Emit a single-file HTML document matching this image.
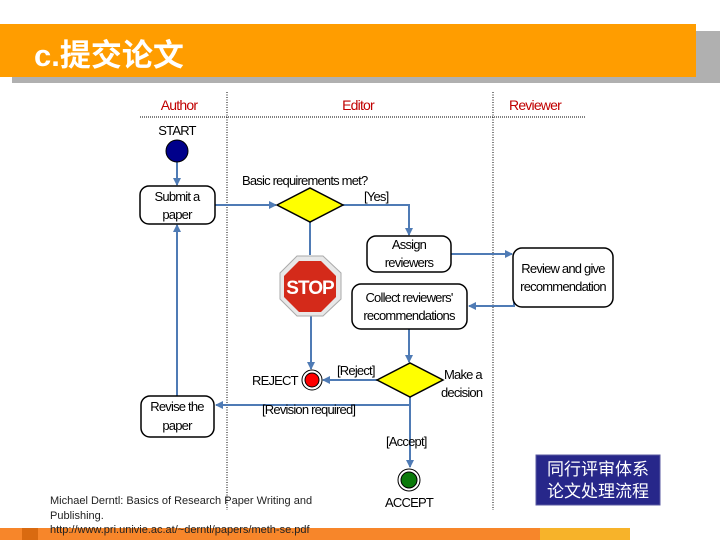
<!DOCTYPE html>
<html><head><meta charset="utf-8"><style>
body{margin:0;width:720px;height:540px;background:#fff;overflow:hidden;position:relative;font-family:"Liberation Sans",sans-serif}
svg{position:absolute;left:0;top:0}
</style></head><body>
<svg width="720" height="540" viewBox="0 0 720 540" font-family="'Liberation Sans','Noto Sans CJK SC',sans-serif">
<defs><marker id="a" markerWidth="8" markerHeight="8" refX="7" refY="4" orient="auto" markerUnits="userSpaceOnUse"><path d="M0,0 L8,4 L0,8 Z" fill="#4f7bb5"/></marker></defs>
<rect x="12" y="31" width="708" height="52" fill="#b0b0b0"/>
<rect x="0" y="24" width="696" height="53" fill="#ff9d00"/>
<text x="34" y="66" font-size="31" fill="#fff" font-weight="bold">c.提交论文</text>
<rect x="0" y="528" width="630" height="12" fill="#f7862a"/>
<rect x="540" y="528" width="90" height="12" fill="#f7b32a"/>
<rect x="22" y="528" width="16" height="12" fill="#d96a10"/>
<g font-size="14" fill="#c00000" text-anchor="middle" letter-spacing="-0.8">
<text x="179" y="110">Author</text><text x="358" y="110">Editor</text><text x="535" y="110">Reviewer</text></g>
<line x1="140" y1="117" x2="585" y2="117" stroke="#000" stroke-dasharray="1,1"/>
<line x1="227" y1="92" x2="227" y2="510" stroke="#000" stroke-dasharray="1,1.5"/>
<line x1="493" y1="92" x2="493" y2="510" stroke="#000" stroke-dasharray="1,1.5"/>
<g stroke="#4f7bb5" stroke-width="2" fill="none">
<line x1="177" y1="162" x2="177" y2="185" marker-end="url(#a)"/>
<line x1="215" y1="205" x2="276" y2="205" marker-end="url(#a)"/>
<polyline points="343,205 409,205 409,235" marker-end="url(#a)"/>
<line x1="451" y1="254" x2="512" y2="254" marker-end="url(#a)"/>
<polyline points="514,300 514,306 469,306" marker-end="url(#a)"/>
<line x1="310" y1="222" x2="310" y2="255"/>
<line x1="311" y1="316" x2="311" y2="369" marker-end="url(#a)"/>
<line x1="409" y1="329" x2="409" y2="362" marker-end="url(#a)"/>
<line x1="377" y1="380" x2="323" y2="380" marker-end="url(#a)"/>
<line x1="410" y1="397" x2="410" y2="467" marker-end="url(#a)"/>
<line x1="410" y1="405" x2="216" y2="405" marker-end="url(#a)"/>
<line x1="177" y1="396" x2="177" y2="225" marker-end="url(#a)"/>
</g>
<g stroke="#000" stroke-width="1.5" fill="#fff">
<rect x="140" y="186" width="75" height="38" rx="9"/>
<rect x="367" y="236" width="84" height="36" rx="9"/>
<rect x="513" y="248" width="100" height="59" rx="9"/>
<rect x="352" y="284" width="115" height="45" rx="9"/>
<rect x="141" y="396" width="73" height="41" rx="9"/>
<polygon points="277,205 310,188 343,205 310,222" fill="#ffff00"/>
<polygon points="377,380 410,363 443,380 410,397" fill="#ffff00"/>
</g>
<circle cx="177" cy="151" r="11" fill="#00008b" stroke="#000"/>
<circle cx="312" cy="380" r="10" fill="#fff" stroke="#000"/><circle cx="312" cy="380" r="7" fill="#f00" stroke="#000"/>
<circle cx="409" cy="480" r="11" fill="#fff" stroke="#000"/><circle cx="409" cy="480" r="8" fill="#0a7a0a" stroke="#000"/>
<polygon points="297,256 323,256 341,273 341,299 323,316 297,316 280,299 280,273" fill="#e8e8e8" stroke="#aaa"/>
<polygon points="299,261 321,261 336,276 336,297 321,312 299,312 284,297 284,276" fill="#d42a1a"/>
<text x="310" y="294" font-size="19" font-weight="bold" fill="#fff" text-anchor="middle" letter-spacing="-1">STOP</text>
<g font-size="13" fill="#000" letter-spacing="-0.8">
<text x="177" y="135" text-anchor="middle">START</text>
<text x="177" y="201" text-anchor="middle">Submit a</text><text x="177" y="219" text-anchor="middle">paper</text>
<text x="242" y="185">Basic requirements met?</text>
<text x="364" y="201">[Yes]</text>
<text x="409" y="249" text-anchor="middle">Assign</text><text x="409" y="267" text-anchor="middle">reviewers</text>
<text x="563" y="273" text-anchor="middle">Review and give</text><text x="563" y="291" text-anchor="middle">recommendation</text>
<text x="409" y="302" text-anchor="middle">Collect reviewers'</text><text x="409" y="320" text-anchor="middle">recommendations</text>
<text x="337" y="375">[Reject]</text>
<text x="252" y="385">REJECT</text>
<text x="444" y="379">Make a</text><text x="441" y="397">decision</text>
<text x="177" y="411" text-anchor="middle">Revise the</text><text x="177" y="430" text-anchor="middle">paper</text>
<text x="262" y="414">[Revision required]</text>
<text x="386" y="446">[Accept]</text>
<text x="409" y="507" text-anchor="middle">ACCEPT</text>
</g>
<g font-size="11" fill="#222"><text x="50" y="504">Michael Derntl: Basics of Research Paper Writing and</text><text x="50" y="519">Publishing.</text><text x="50" y="533">http://www.pri.univie.ac.at/~derntl/papers/meth-se.pdf</text></g>
<rect x="536" y="455" width="124" height="50" fill="#27278a" stroke="#5a5aa0"/>
<g font-size="17" fill="#fff" text-anchor="middle"><text x="598" y="475">同行评审体系</text><text x="598" y="497">论文处理流程</text></g>
</svg>
</body></html>
